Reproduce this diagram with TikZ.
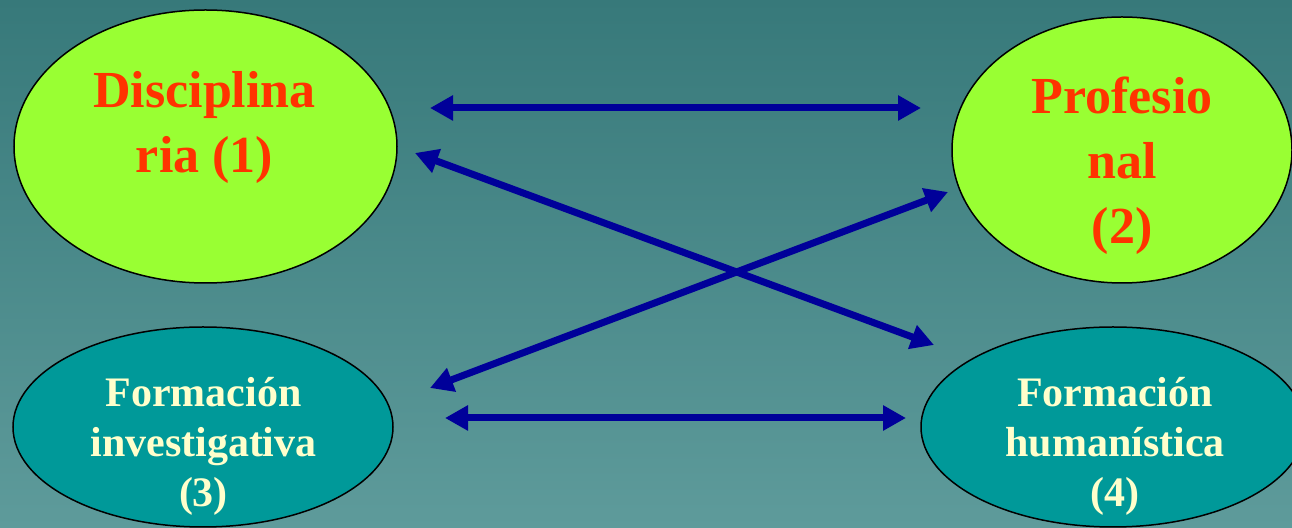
\documentclass[tikz,border=0pt]{standalone}
\usepackage{fontspec}
\setmainfont{Liberation Serif}
\usetikzlibrary{shapes.geometric,arrows.meta}

\definecolor{bgtop}{RGB}{55,121,122}
\definecolor{bgbot}{RGB}{94,155,155}
\definecolor{lime}{RGB}{153,255,51}
\definecolor{tealfill}{RGB}{0,153,153}
\definecolor{redtext}{RGB}{255,51,0}
\definecolor{creamtext}{RGB}{255,255,204}
\definecolor{arrowblue}{RGB}{0,0,153}

\tikzset{
  blob/.style={ellipse, draw=black, line width=0.75pt, inner sep=0pt},
  bigtext/.style={align=center, text=redtext, anchor=base,
    font=\fontsize{26}{32.5}\selectfont\bfseries},
  smalltext/.style={align=center, text=creamtext, anchor=base,
    font=\fontsize{21}{25}\selectfont\bfseries},
  link/.style={arrowblue, line width=3.5pt,
    {Triangle[length=11.5pt,width=12pt]}-{Triangle[length=11.5pt,width=12pt]}}
}

\begin{document}
\begin{tikzpicture}[x=0.5pt,y=-0.5pt]
  % Background
  \shade[top color=bgtop, bottom color=bgbot] (0,0) rectangle (1292,528);
  \useasboundingbox (0,0) rectangle (1292,528);

  % Ellipses
  \node[blob, fill=lime, minimum width=191.5pt, minimum height=136.5pt] (disc) at (205.5,146.5) {};
  \node[blob, fill=lime, minimum width=170pt, minimum height=133pt] (prof) at (1122,150) {};
  \node[blob, fill=tealfill, minimum width=190pt, minimum height=100pt] (inv) at (203,427) {};
  \node[blob, fill=tealfill, minimum width=192pt, minimum height=100pt] (hum) at (1113,427) {};

  % Labels (anchored at the baseline of their last line)
  \node[bigtext] (disctext) at (204.5,173) {Disciplina\\ria (1)};
  \node[bigtext] (proftext) at (1122,244) {Profesio\\nal\\(2)};
  \node[smalltext] (invtext) at (203.5,507) {Formación\\investigativa\\(3)};
  \node[smalltext] (humtext) at (1115,507) {Formación\\humanística\\(4)};

  % Arrow ends
  \coordinate (discR) at (430,108);
  \coordinate (profL) at (921,108);
  \coordinate (discD) at (415,153);
  \coordinate (humU) at (934,345);
  \coordinate (invU) at (430,388);
  \coordinate (profD) at (948,192);
  \coordinate (invR) at (445,418);
  \coordinate (humL) at (906,418);

  % Connectors
  \draw[link] (discR) -- (profL);
  \draw[link] (discD) -- (humU);
  \draw[link] (invU) -- (profD);
  \draw[link] (invR) -- (humL);
\end{tikzpicture}
\end{document}
